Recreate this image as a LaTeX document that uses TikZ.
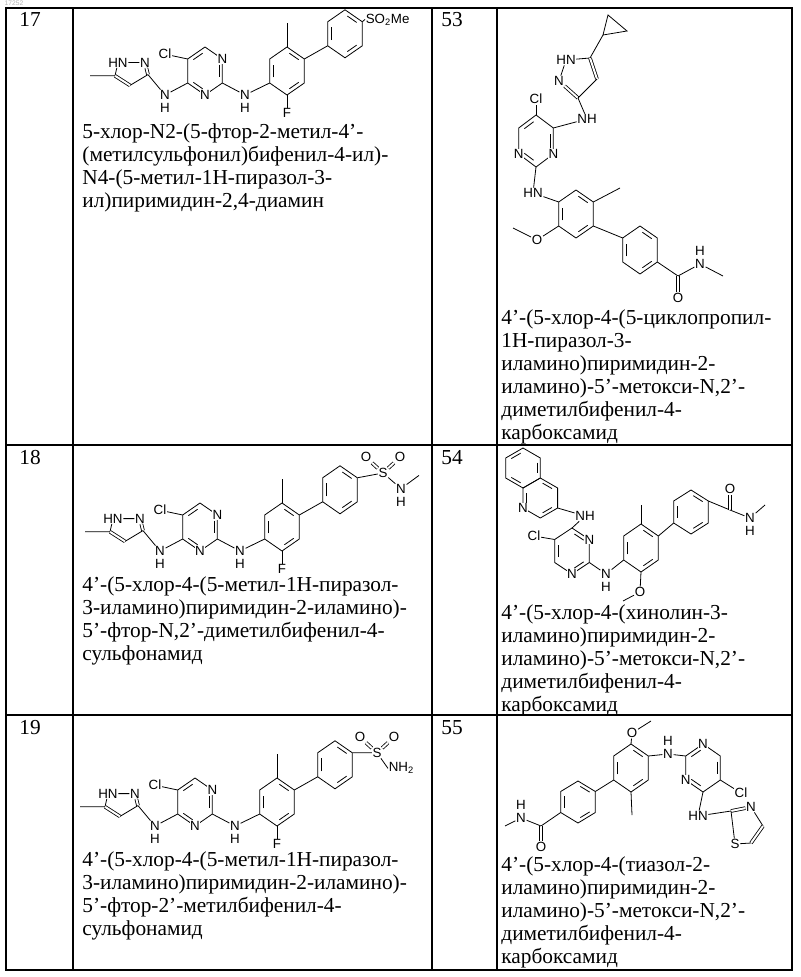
\documentclass[tikz,border=0pt]{standalone}
\usepackage{fontspec}
\setmainfont{Liberation Serif}
\setsansfont{Liberation Sans}
\usetikzlibrary{calc}
\tikzset{
  atom/.style={font=\sffamily\fontsize{10}{10}\selectfont, fill=white, inner sep=0.3pt},
  dbl/.style={double, double distance=1.5pt},
  txt/.style={font=\fontsize{16}{17.25}\selectfont, align=left, anchor=north west, inner sep=0pt},
  num/.style={font=\fontsize{16}{17}\selectfont, anchor=north west, inner sep=0pt},
}
% six-ring: name, centre, edges with an inner line
\newcommand\ringsix[3]{%
  \foreach \k/\a in {1/270,2/330,3/30,4/90,5/150,6/210}{\path (#2) ++(\a:20) coordinate (#1\k);}
  \draw (#11) -- (#12) -- (#13) -- (#14) -- (#15) -- (#16) -- cycle;
  \foreach \e in {#3}{\draw (#2) +(\e+9:15) -- +(\e+51:15);}}
% pyrazolyl-aminopyrimidine-biphenyl core
\newcommand\pzcore{%
  \ringsix{p}{0,0}{210,330,90}
  \ringsix{c}{82,0}{150,270,30}
  \ringsix{q}{140,-31}{150,270,30}
  \node[atom] at (p2) {N};
  \node[atom] at (p4) {N};
  \node[atom] (cl) at (-40,-14) {Cl};
  \draw (p6) -- (cl);
  \node[atom] (na) at (-40,20) {N};
  \node[atom] at (-40,31) {H};
  \node[atom] (nb) at (40,20) {N};
  \node[atom] at (40,31) {H};
  \draw (p5) -- (na);
  \draw (p3) -- (nb);
  \draw (nb) -- (c5);
  \coordinate (z3) at (-57,3);
  \coordinate (z4) at (-75,12);
  \coordinate (z5) at (-90,4);
  \node[atom] (zn2) at (-60,-7) {N};
  \node[atom] (zn1) at (-87,-7) {HN};
  \draw (na) -- (z3);
  \draw[dbl] (z3) -- (zn2);
  \draw (zn2) -- (zn1);
  \draw (zn1) -- (z5);
  \draw[dbl] (z5) -- (z4);
  \draw (z4) -- (z3);
  \draw (z5) -- (-115,4);
  \draw (c1) -- (82,-40);
  \node[atom] (fl) at (82,35) {F};
  \draw (c4) -- (fl);
  \draw (c2) -- (q5);}

\begin{document}
\begin{tikzpicture}[x=0.75pt, y=-0.75pt, line width=0.6pt]
\useasboundingbox (0,0) rectangle (800,977);
\node[font=\sffamily\fontsize{5}{5}\selectfont, text=black!30] at (14,3) {17252};

% table
\draw[line width=0.8pt] (6,8) rectangle (792,970);
\draw[line width=0.8pt] (73,8) -- (73,970);
\draw[line width=0.8pt] (432,8) -- (432,970);
\draw[line width=0.8pt] (497,8) -- (497,970);
\draw[line width=0.8pt] (6,445) -- (792,445);
\draw[line width=0.8pt] (6,715) -- (792,715);

\node[num] (n17) at (19,12) {17};
\node[num] (n53) at (441,12) {53};
\node[num] (n18) at (19,450) {18};
\node[num] (n54) at (441,450) {54};
\node[num] (n19) at (19,720) {19};
\node[num] (n55) at (441,720) {55};

% 17
\begin{scope}[shift={(205,71)}, yscale=1.2]
  \pzcore
  \node[atom, anchor=west] (so) at (160,-43) {SO\textsubscript{2}Me};
  \draw (q2) -- (so.west);
\end{scope}

% 18
\begin{scope}[shift={(200,527)}, yscale=1.2]
  \pzcore
  \node[atom] (s) at (183,-45) {S};
  \node[atom] (o1) at (166,-58) {O};
  \node[atom] (o2) at (200,-58) {O};
  \node[atom] (sn) at (201,-32) {N};
  \node[atom] at (201,-21) {H};
  \draw (q2) -- (s);
  \draw[dbl] (s) -- (o1);
  \draw[dbl] (s) -- (o2);
  \draw (s) -- (sn);
  \draw (sn) -- (219,-43);
\end{scope}

% 19
\begin{scope}[shift={(195,802)}, yscale=1.2]
  \pzcore
  \node[atom] (s) at (182,-41) {S};
  \node[atom] (o1) at (165,-54) {O};
  \node[atom] (o2) at (199,-54) {O};
  \node[atom, anchor=west] (sn) at (193,-28) {NH\textsubscript{2}};
  \draw (q2) -- (s);
  \draw[dbl] (s) -- (o1);
  \draw[dbl] (s) -- (o2);
  \draw (s) -- (sn.west);
\end{scope}

% 53
\begin{scope}[shift={(536,141)}, yscale=1.3]\ringsix{p}{0,0}{210,330,90}\end{scope}
\node[atom] at (p3) {N};
\node[atom] at (p5) {N};
\node[atom] (cl) at (536,99) {Cl};
\draw (p1) -- (cl);
\node[atom] (nh) at (587,119) {NH};
\draw (p2) -- (nh);
\coordinate (z3) at (578,98);
\coordinate (z4) at (597,79);
\coordinate (z5) at (590,58);
\node[atom] (zn2) at (559,81) {N};
\node[atom] (zn1) at (566,60) {HN};
\draw (nh) -- (z3);
\draw[dbl] (z3) -- (zn2);
\draw (zn2) -- (zn1);
\draw (zn1) -- (z5);
\draw[dbl] (z5) -- (z4);
\draw (z4) -- (z3);
\coordinate (y1) at (603,35);
\coordinate (y2) at (608,15);
\coordinate (y3) at (627,31);
\draw (z5) -- (y1);
\draw (y1) -- (y2) -- (y3) -- cycle;
\node[atom] (hn) at (533,193) {HN};
\draw (p4) -- (hn);
\begin{scope}[shift={(576,214)}, yscale=1.2]\ringsix{c}{0,0}{150,270,30}\end{scope}
\begin{scope}[shift={(640,250)}, yscale=1.2]\ringsix{r}{0,0}{150,270,30}\end{scope}
\draw (hn) -- (c6);
\draw (c2) -- (620,188);
\node[atom] (o) at (537,240) {O};
\draw (c5) -- (o);
\draw (o) -- (513,228);
\draw (c3) -- (r6);
\coordinate (am) at (678,276);
\node[atom] (ao) at (678,298) {O};
\node[atom] (an) at (700,264) {N};
\node[atom] at (700,251) {H};
\draw (r3) -- (am);
\draw[dbl] (am) -- (ao);
\draw (am) -- (an);
\draw (an) -- (723,276);

% 54
\begin{scope}[shift={(523,468)}]\ringsix{a}{0,0}{210,330,90}\end{scope}
\begin{scope}[shift={(540.3,498)}]\ringsix{b}{0,0}{270,30,150}\end{scope}
\node[atom] at (b5) {N};
\node[atom] (nh) at (585,516) {NH};
\draw (b3) -- (nh);
\begin{scope}[shift={(572,551)}, yscale=1.15]\ringsix{p}{0,0}{270,150,30}\end{scope}
\node[atom] at (p2) {N};
\node[atom] at (p4) {N};
\draw (nh) -- (p1);
\node[atom] (cl) at (534,536) {Cl};
\draw (p6) -- (cl);
\node[atom] (nb) at (606,574) {N};
\node[atom] at (606,587) {H};
\draw (p3) -- (nb);
\begin{scope}[shift={(641,548)}, yscale=1.2]\ringsix{c}{0,0}{150,270,30}\end{scope}
\begin{scope}[shift={(691,512)}, yscale=1.1]\ringsix{r}{0,0}{150,270,30}\end{scope}
\draw (nb) -- (c5);
\draw (c1) -- (641,505);
\node[atom] (o) at (640,592) {O};
\draw (c4) -- (o);
\draw (o) -- (623,601);
\draw (c2) -- (r5);
\coordinate (am) at (730,510);
\node[atom] (ao) at (730,489) {O};
\node[atom] (an) at (750,518) {N};
\node[atom] at (750,531) {H};
\draw (r2) -- (am);
\draw[dbl] (am) -- (ao);
\draw (am) -- (an);
\draw (an) -- (765,505);

% 55
\begin{scope}[shift={(578,802)}, yscale=1.05]\ringsix{l}{0,0}{150,270,30}\end{scope}
\begin{scope}[shift={(631,768)}, yscale=1.2]\ringsix{c}{0,0}{150,270,30}\end{scope}
\begin{scope}[shift={(703,768)}, yscale=1.2]\ringsix{p}{0,0}{330,90,210}\end{scope}
\coordinate (am) at (541,826);
\node[atom] (ao) at (541,847) {O};
\node[atom] (an) at (521,818) {N};
\node[atom] at (521,805) {H};
\draw (l5) -- (am);
\draw[dbl] (am) -- (ao);
\draw (am) -- (an);
\draw (an) -- (505,826);
\draw (l2) -- (c5);
\node[atom] (o) at (632,733) {O};
\draw (c1) -- (o);
\draw (o) -- (651,721);
\draw (c4) -- (632,815);
\node[atom] (nh) at (668,754) {N};
\node[atom] at (668,741) {H};
\draw (c2) -- (nh);
\node[atom] at (p1) {N};
\node[atom] at (p5) {N};
\draw (nh) -- (p6);
\node[atom] (cl) at (741,793) {Cl};
\draw (p3) -- (cl);
\node[atom] (hn) at (698,816) {HN};
\draw (p4) -- (hn);
\coordinate (t2) at (731,811);
\coordinate (t4) at (763,826);
\coordinate (t5) at (751,843);
\node[atom] (tn) at (751,807) {N};
\node[atom] (ts) at (735,844) {S};
\draw (hn) -- (t2);
\draw[dbl] (t2) -- (tn);
\draw (tn) -- (t4);
\draw[dbl] (t4) -- (t5);
\draw (t5) -- (ts);
\draw (ts) -- (t2);

% names
\node[txt] (t17) at (82,123) {5-хлор-N2-(5-фтор-2-метил-4'-\\(метилсульфонил)бифенил-4-ил)-\\N4-(5-метил-1Н-пиразол-3-\\ил)пиримидин-2,4-диамин};
\node[txt] (t53) at (501,309) {4'-(5-хлор-4-(5-циклопропил-\\1Н-пиразол-3-\\иламино)пиримидин-2-\\иламино)-5'-метокси-N,2'-\\диметилбифенил-4-\\карбоксамид};
\node[txt] (t18) at (82,576) {4'-(5-хлор-4-(5-метил-1Н-пиразол-\\3-иламино)пиримидин-2-иламино)-\\5'-фтор-N,2'-диметилбифенил-4-\\сульфонамид};
\node[txt] (t54) at (501,604) {4'-(5-хлор-4-(хинолин-3-\\иламино)пиримидин-2-\\иламино)-5'-метокси-N,2'-\\диметилбифенил-4-\\карбоксамид};
\node[txt] (t19) at (82,851) {4'-(5-хлор-4-(5-метил-1Н-пиразол-\\3-иламино)пиримидин-2-иламино)-\\5'-фтор-2'-метилбифенил-4-\\сульфонамид};
\node[txt] (t55) at (501,856) {4'-(5-хлор-4-(тиазол-2-\\иламино)пиримидин-2-\\иламино)-5'-метокси-N,2'-\\диметилбифенил-4-\\карбоксамид};
\end{tikzpicture}
\end{document}
